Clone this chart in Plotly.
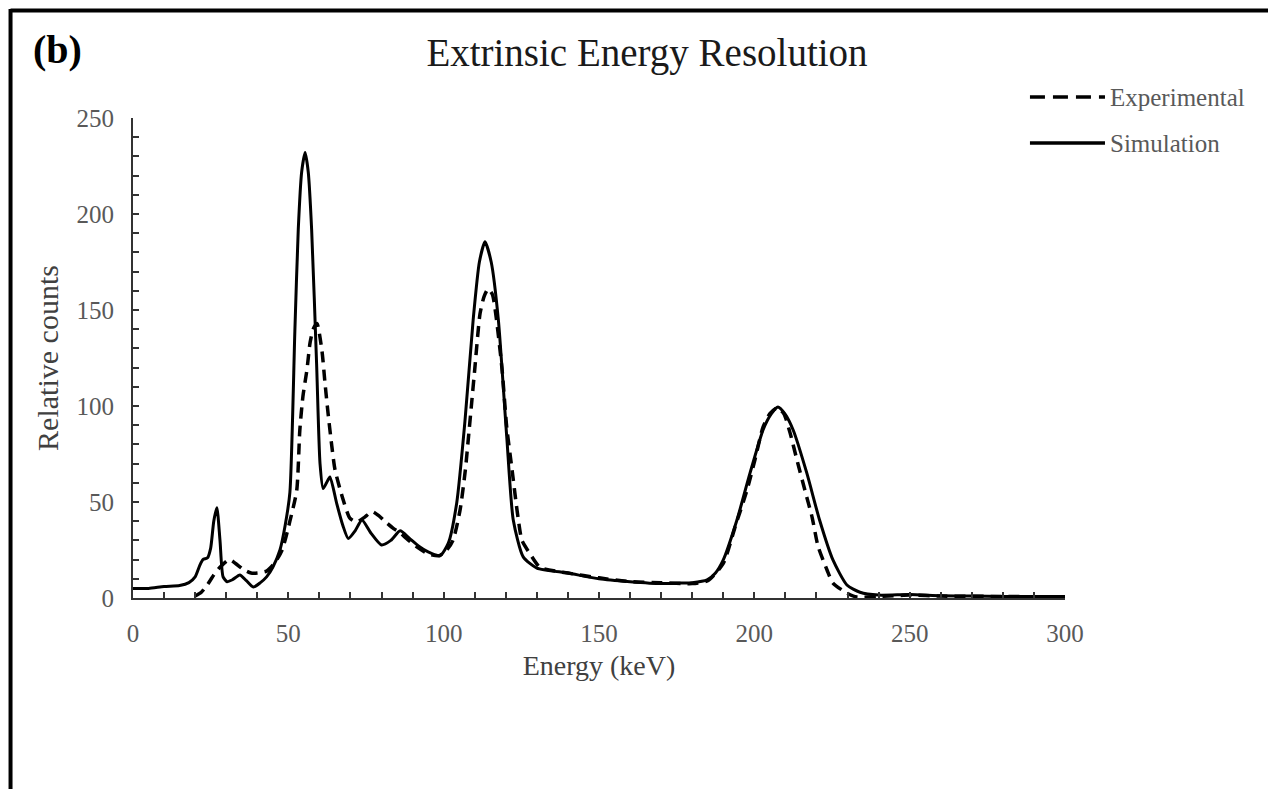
import plotly.graph_objects as go

# ---- data ----
sim_energy = [0, 5, 10, 15, 18, 20, 21.5, 22.5, 24, 25, 26, 27, 28, 29, 30.3, 32, 34.4, 36.5, 38.7,
              41, 43, 45, 47.3, 49, 50.5, 52.1, 53.2, 54.3, 55.4, 56.4, 57.5, 59.1, 60.2, 61.2, 62.3,
              63.4, 65.6, 67.5, 69.3, 71.5, 73.7, 76.5, 80, 83, 86, 89, 92, 95, 98.8, 101.5, 104.2,
              106.9, 109.5, 111.5, 113.3, 115.3, 117.6, 120.3, 122.4, 125.6, 130, 140, 150, 160, 170,
              176, 180, 184.8, 187.5, 190, 194.4, 198.6, 202.8, 205.5, 207.6, 209.8, 212.5, 216.9,
              221, 225.3, 229.8, 234, 240, 250, 260, 270, 280, 290, 300]
sim_counts = [5, 5, 6, 6.5, 8, 11, 17, 20, 21, 26, 40, 47, 30, 11, 8.5, 9.5, 12, 9, 5.7,
              8, 11, 16, 25, 38, 55, 139, 192, 222, 232, 222, 192, 122, 70, 57, 60,
              63, 49, 38, 31, 35, 40.6, 34, 27.6, 30, 35, 31, 27, 24, 22, 28.6, 49.5,
              93, 145, 175, 185.5, 175, 145, 84, 40.6, 21.4, 15.6, 13, 10, 8.5, 7.5,
              7.8, 8, 9.4, 13, 19.8, 40.6, 65, 87.5, 96, 99.5, 96, 87.5, 65,
              40.6, 19.8, 6.8, 3, 1.5, 1.8, 1.2, 1, 0.8, 0.8, 0.8]

exp_energy = [20, 22, 24, 26, 28, 31, 33, 35.4, 38, 40, 43, 45.5, 48, 50.5, 52.7, 53.7, 54.7, 56,
              57, 58, 59.2, 60.8, 61.8, 62.8, 64, 65, 67.3, 69.8, 72, 74.5, 77, 79, 81, 84, 86, 88,
              91, 95, 98.5, 101, 103, 105.3, 107, 108, 109, 110, 111.7, 113, 114.3, 115.7, 117,
              118.8, 120.3, 122, 123.6, 125.2, 127.8, 131, 140, 150, 160, 170, 180, 185, 190, 194,
              197.6, 200.2, 202.8, 205, 207.3, 209.5, 211.5, 213.7, 216.3, 218.6, 220.5, 223.4,
              225.3, 229.8, 233, 240, 250, 260, 280, 300]
exp_counts = [1, 3, 7, 12, 16, 20, 18, 15, 13, 13, 14, 18, 25, 40, 56, 87.5, 105, 119,
              133, 140, 143, 129, 112, 96, 79, 67, 53, 41.6, 39.6, 42, 45, 43, 40, 36, 34, 31,
              27, 23, 22, 25, 30, 46, 67, 84, 101.5, 119, 148, 157, 161, 158, 145,
              119, 89, 67, 46, 30, 23, 16, 13, 10.5, 8.5, 8, 7.5, 9, 18, 38,
              56, 72, 89, 96, 99, 96, 86, 72, 56, 42, 27, 14.6,
              7.8, 2.6, 0.5, 0.8, 1.5, 1, 0.8, 0.5]

assert len(sim_energy) == len(sim_counts), (len(sim_energy), len(sim_counts))
assert len(exp_energy) == len(exp_counts), (len(exp_energy), len(exp_counts))

x_ticks = [0, 50, 100, 150, 200, 250, 300]
y_ticks = [0, 50, 100, 150, 200, 250]

FONT = "Liberation Serif"
GREY = "#595959"
AXIS = "#333333"

fig = go.Figure()
fig.add_trace(go.Scatter(x=exp_energy, y=exp_counts, mode="lines", name="Experimental",
                         line=dict(color="black", width=3.5, dash="11px,7px", shape="spline", smoothing=0.6),
                         showlegend=False))
fig.add_trace(go.Scatter(x=sim_energy, y=sim_counts, mode="lines", name="Simulation",
                         line=dict(color="black", width=3, shape="spline", smoothing=0.6),
                         showlegend=False))

fig.update_layout(
    width=1276, height=789,
    margin=dict(l=125, r=219, t=110, b=199),
    paper_bgcolor="white", plot_bgcolor="white",
    font=dict(family=FONT, color=GREY),
    title=dict(text="Extrinsic Energy Resolution", font=dict(family=FONT, size=39, color="#1a1a1a"),
               xref="paper", x=0.5515, xanchor="center", yref="container", y=1 - 44 / 789, yanchor="middle"),
)
fig.update_xaxes(range=[0, 300], tickvals=x_ticks, showgrid=False, zeroline=False,
                 showline=True, linecolor=AXIS, linewidth=2,
                 ticks="inside", ticklen=6, tickwidth=1.5, tickcolor=AXIS,
                 minor=dict(ticks="inside", dtick=10, ticklen=6, tickwidth=1.5, tickcolor=AXIS),
                 tickfont=dict(family=FONT, size=25, color=GREY), ticklabelstandoff=12,
                 title=dict(text="Energy (keV)", font=dict(family=FONT, size=28, color="#404040"), standoff=9))
fig.update_yaxes(range=[0, 250], tickvals=y_ticks, showgrid=False, zeroline=False,
                 showline=True, linecolor=AXIS, linewidth=2,
                 ticks="inside", ticklen=6, tickwidth=1.5, tickcolor=AXIS,
                 minor=dict(ticks="inside", dtick=10, ticklen=6, tickwidth=1.5, tickcolor=AXIS),
                 tickfont=dict(family=FONT, size=25, color=GREY), ticklabelstandoff=12,
                 title=dict(text="Relative counts", font=dict(family=FONT, size=30, color="#404040"), standoff=9))

# frame around the figure panel (top and left edges visible)
fig.add_shape(type="line", xref="paper", yref="paper", x0=-0.1314, x1=1.25, y0=1.224, y1=1.224,
              line=dict(color="black", width=4))
fig.add_shape(type="line", xref="paper", yref="paper", x0=-0.1314, x1=-0.1314, y0=1.227, y1=-0.45,
              line=dict(color="black", width=4))

# panel label
fig.add_annotation(text="<b>(b)</b>", xref="paper", yref="paper", x=-0.0815, y=1.1417,
                   xanchor="center", yanchor="middle", showarrow=False,
                   font=dict(family=FONT, size=40, color="black"))

# legend drawn as key lines + labels
leg_x0, leg_x1, leg_tx = 0.9624, 1.0429, 1.0461
for label, ly, dash in [("Experimental", 1.04375, "15px,8px"), ("Simulation", 0.9479, "solid")]:
    fig.add_shape(type="line", xref="paper", yref="paper", x0=leg_x0, x1=leg_x1, y0=ly, y1=ly,
                  line=dict(color="black", width=3.5, dash=dash))
    fig.add_annotation(text=label, xref="paper", yref="paper", x=leg_tx, y=ly,
                       xanchor="left", yanchor="middle", showarrow=False,
                       font=dict(family=FONT, size=25, color=GREY))

fig.write_html("out.html")
